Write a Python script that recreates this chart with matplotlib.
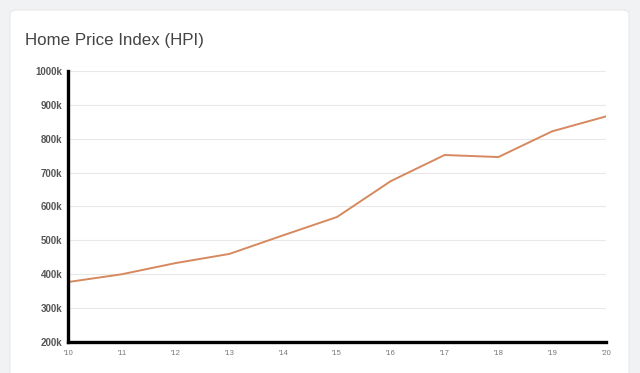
import matplotlib
matplotlib.use('Agg')
import matplotlib.pyplot as plt
from matplotlib.patches import FancyBboxPatch

# Data
years = list(range(2010, 2021))
year_labels = ["'10", "'11", "'12", "'13", "'14", "'15", "'16", "'17", "'18", "'19", "'20"]
hpi_k = [377, 400, 433, 460, 515, 569, 675, 752, 746, 822, 866]
y_ticks = [200, 300, 400, 500, 600, 700, 800, 900, 1000]

plt.rcParams['font.family'] = ['Liberation Sans', 'DejaVu Sans']

fig = plt.figure(figsize=(6.4, 3.73), dpi=100)
fig.patch.set_facecolor('#f1f2f4')

# white card behind the chart
card = FancyBboxPatch((10 / 640, -0.05), 619 / 640, 1 - 10 / 373 + 0.05,
                      boxstyle='round,pad=0,rounding_size=0.012',
                      transform=fig.transFigure, facecolor='white',
                      edgecolor='#e8e9eb', linewidth=0.8, zorder=-5)
fig.add_artist(card)

fig.text(25 / 640, 1 - 40 / 373, 'Home Price Index (HPI)', fontsize=12.2,
         color='#444444', va='center', ha='left')

ax = fig.add_axes([68 / 640, 1 - 342 / 373, (606 - 68) / 640, (342 - 71) / 373])
ax.set_facecolor('none')

ax.plot(years, hpi_k, color='#d6895f', linewidth=1.4, zorder=3)

ax.set_xlim(years[0], years[-1])
ax.set_ylim(200, 1000)
ax.set_xticks(years)
ax.set_xticklabels(year_labels)
ax.set_yticks(y_ticks)
ax.set_yticklabels([f'{v}k' for v in y_ticks])

ax.grid(axis='y', color='#e8e8e8', linewidth=0.8)
ax.set_axisbelow(True)

for s in ['top', 'right']:
    ax.spines[s].set_visible(False)
for s in ['left', 'bottom']:
    ax.spines[s].set_color('black')
    ax.spines[s].set_linewidth(2.4)
    ax.spines[s].set_zorder(4)

ax.tick_params(axis='y', length=0, pad=4, labelsize=7, labelcolor='#555555')
ax.tick_params(axis='x', length=0, pad=6, labelsize=5.5, labelcolor='#777777')
for lab in ax.get_yticklabels():
    lab.set_fontweight('bold')

fig.savefig('out.png', dpi=100, facecolor=fig.get_facecolor())
